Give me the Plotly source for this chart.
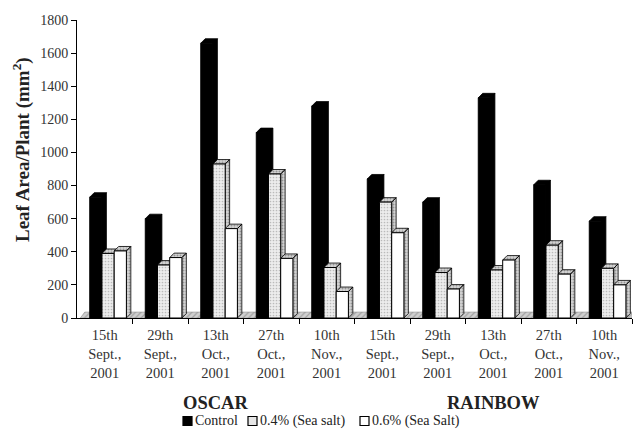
import plotly.graph_objects as go

# Sampling dates (repeated for the two cultivars)
dates = ["15th<br>Sept.,<br>2001", "29th<br>Sept.,<br>2001", "13th<br>Oct.,<br>2001",
         "27th<br>Oct.,<br>2001", "10th<br>Nov.,<br>2001"]
categories = dates + dates
cultivars = ["OSCAR", "RAINBOW"]

# Leaf area per plant (mm^2)
control = [730, 600, 1660, 1120, 1280, 840, 700, 1330, 805, 585]
salt_04 = [390, 320, 930, 870, 305, 700, 275, 290, 440, 300]
salt_06 = [405, 365, 540, 360, 160, 515, 175, 350, 265, 200]

series_names = ["Control", "0.4% (Sea salt)", "0.6% (Sea Salt)"]
y_ticks = [0, 200, 400, 600, 800, 1000, 1200, 1400, 1600, 1800]

FONT = "Liberation Serif, Times New Roman, serif"
n = len(categories)
centers = [i + 0.5 for i in range(n)]

W, H = 636, 434
M_L, M_R, M_T, M_B = 77, 4, 20, 116
plot_w = W - M_L - M_R
plot_h = H - M_T - M_B


def px_to_paper_x(px):
    return (px - M_L) / plot_w


def px_to_paper_y(py):
    return (H - M_B - py) / plot_h


bar_w = 0.22
offsets = [-0.27, -0.05, 0.17]
dx, dy = 0.08, 27          # oblique depth of the pseudo-3D bars
floor_dy = 36

dots = dict(shape=".", fgcolor="#8a8a8a", bgcolor="#ededed", size=3, solidity=0.25)
side_dots = dict(shape=".", fgcolor="#555555", bgcolor="#d4d4d4", size=3, solidity=0.35)

front_styles = [
    dict(color="black"),
    dict(color="#e6e6e6", pattern=dots),
    dict(color="white"),
]
depth_styles = [
    dict(fillcolor="black", pattern=None),
    dict(fillcolor="#c8c8c8", pattern=side_dots),
    dict(fillcolor="#c8c8c8", pattern=side_dots),
]

fig = go.Figure()

# floor of the pseudo-3D chart
fig.add_trace(go.Scatter(
    x=[0.06, n, n, 0.06 + dx, 0.06],
    y=[0, 0, floor_dy, floor_dy, 0],
    fill="toself", mode="lines", line=dict(color="#888888", width=0.5),
    fillcolor="#bdbdbd",
    fillpattern=dict(shape="/", fgcolor="#777777", bgcolor="#cfcfcf", size=4, solidity=0.3),
    hoverinfo="skip", showlegend=False, xaxis="x", yaxis="y"))

# side and top faces behind each bar
for values, off, st in zip([control, salt_04, salt_06], offsets, depth_styles):
    xs, ys = [], []
    for c, v in zip(centers, values):
        x0 = c + off
        x1 = x0 + bar_w
        # right side face
        xs += [x1, x1 + dx, x1 + dx, x1, x1, None]
        ys += [0, dy, v + dy, v, 0, None]
        # top face
        xs += [x0, x0 + dx, x1 + dx, x1, x0, None]
        ys += [v, v + dy, v + dy, v, v, None]
    kw = dict(x=xs, y=ys, fill="toself", mode="lines",
              line=dict(color="black", width=0.8), fillcolor=st["fillcolor"],
              hoverinfo="skip", showlegend=False, xaxis="x", yaxis="y")
    if st["pattern"] is not None:
        kw["fillpattern"] = st["pattern"]
    fig.add_trace(go.Scatter(**kw))

# front faces of the bars (overlay subplot so they sit above the depth faces)
for name, values, off, st in zip(series_names, [control, salt_04, salt_06], offsets, front_styles):
    fig.add_trace(go.Bar(
        x=centers, y=values, width=bar_w, offset=off, name=name,
        marker=dict(line=dict(color="black", width=1), **st),
        showlegend=False, xaxis="x2", yaxis="y2"))

fig.update_layout(
    width=W, height=H,
    margin=dict(l=M_L, r=M_R, t=M_T, b=M_B),
    paper_bgcolor="white", plot_bgcolor="white",
    font=dict(family=FONT, size=12, color="#222222"),
    barmode="overlay",
    showlegend=False,
    xaxis=dict(range=[0, n], tickmode="array", tickvals=centers, ticktext=categories,
               ticks="", showline=True, linecolor="black", linewidth=1,
               showgrid=False, zeroline=False, fixedrange=True, ticklabelstandoff=4,
               tickfont=dict(family=FONT, size=14.5, color="#333333"),
               minor=dict(tickmode="array", tickvals=list(range(1, n + 1)),
                          ticks="outside", ticklen=5, tickcolor="black", tickwidth=1)),
    yaxis=dict(range=[0, 1800], tickmode="array", tickvals=y_ticks,
               ticks="outside", ticklen=5, tickcolor="black", tickwidth=1,
               showline=True, linecolor="black", linewidth=1,
               showgrid=False, zeroline=False, fixedrange=True,
               tickfont=dict(family=FONT, size=14, color="#333333")),
    xaxis2=dict(range=[0, n], overlaying="x", visible=False, fixedrange=True),
    yaxis2=dict(range=[0, 1800], overlaying="y", visible=False, fixedrange=True),
)

# y-axis title
fig.add_annotation(text="<b>Leaf Area/Plant (mm<sup>2</sup>)</b>", textangle=-90,
                   xref="paper", yref="paper", x=px_to_paper_x(21), y=px_to_paper_y(150),
                   xanchor="center", yanchor="middle",
                   showarrow=False, font=dict(family=FONT, size=19, color="#222222"))

# cultivar labels under each group of dates
for k, name in enumerate(cultivars):
    fig.add_annotation(text=f"<b>{name}</b>", xref="x", yref="paper",
                       x=2.5 + 5 * k, y=px_to_paper_y(403), yanchor="middle",
                       showarrow=False, font=dict(family=FONT, size=18.5, color="#222222"))

# legend: swatch + label for each treatment
legend_fills = ["black", "#e6e6e6", "white"]
legend_x = [183, 248, 360]
legend_cy = 421
for name, fill, lx in zip(series_names, legend_fills, legend_x):
    fig.add_shape(type="rect", xref="paper", yref="paper",
                  x0=px_to_paper_x(lx), x1=px_to_paper_x(lx + 9),
                  y0=px_to_paper_y(legend_cy + 4.5), y1=px_to_paper_y(legend_cy - 4.5),
                  fillcolor=fill, line=dict(color="black", width=1.2))
    fig.add_annotation(text=name, xref="paper", yref="paper",
                       x=px_to_paper_x(lx + 10), y=px_to_paper_y(legend_cy),
                       xanchor="left", yanchor="middle", showarrow=False,
                       font=dict(family=FONT, size=14, color="#222222"))

fig.write_html("out.html")
